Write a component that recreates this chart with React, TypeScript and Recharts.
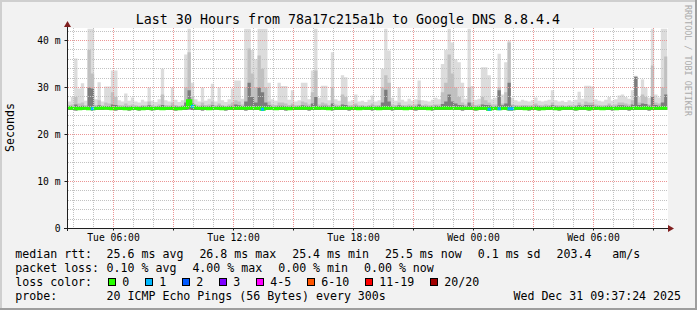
import React from 'react';
import { ComposedChart, Area, Line, XAxis, YAxis } from 'recharts';

// graph starts 3.7h after Tue 00:00 and covers 30 hours in 10 minute slots
const START = 3.7;
const SPAN = 30;
const SLOT = 1 / 6;
const Y_TOP = 42.77;

// smoke: top of each gray band (ms), bottom is pingMin
const pingMax = [
  27.0, 28.0, 36.2, 29.8, 30.9, 27.2, 42.5, 42.5, 27.5, 31.1,
  27.0, 30.2, 30.2, 33.6, 33.6, 27.3, 27.0, 28.7, 27.2, 27.9,
  27.0, 26.8, 27.4, 27.0, 30.0, 27.2, 26.9, 27.5, 34.0, 27.3,
  27.0, 30.0, 27.4, 26.9, 27.3, 37.0, 42.5, 31.0, 27.5, 27.0,
  30.0, 27.2, 27.6, 30.8, 27.0, 30.0, 27.3, 26.9, 27.5, 29.8,
  31.5, 31.5, 27.6, 42.5, 42.5, 38.0, 36.0, 42.5, 42.5, 42.5,
  31.0, 27.5, 27.2, 31.0, 30.3, 30.3, 27.4, 29.4, 27.0, 27.3,
  31.0, 31.0, 27.5, 33.6, 42.5, 27.8, 30.4, 30.4, 27.3, 37.5,
  27.5, 27.2, 32.6, 32.2, 27.0, 27.3, 28.5, 27.0, 27.2, 26.9,
  27.4, 28.3, 27.0, 27.3, 34.0, 42.5, 37.9, 27.8, 27.2, 30.0,
  27.4, 27.0, 27.6, 27.2, 27.5, 31.5, 27.3, 27.2, 27.0, 27.4,
  27.8, 27.5, 35.0, 38.0, 42.5, 39.6, 36.0, 35.4, 31.0, 27.6,
  42.5, 30.3, 27.4, 27.6, 34.3, 34.3, 32.6, 27.5, 27.8, 37.2,
  28.5, 35.4, 40.0, 27.8, 27.3, 27.0, 27.4, 27.2, 27.0, 27.3,
  27.9, 27.2, 27.0, 27.2, 27.4, 29.4, 27.3, 27.0, 27.2, 26.9,
  27.3, 27.0, 27.4, 29.1, 27.6, 30.4, 30.4, 30.2, 27.5, 27.2,
  27.0, 27.4, 28.0, 27.2, 27.5, 28.3, 28.5, 28.0, 27.6, 29.4,
  32.5, 28.0, 31.7, 30.0, 27.8, 42.5, 28.5, 27.9, 42.5, 42.5,
];

const pingMid = [
  26.3, 26.4, 28.0, 26.6, 26.8, 26.2, 38.0, 33.0, 26.3, 27.3,
  26.2, 26.8, 26.6, 29.0, 28.0, 26.3, 26.2, 26.6, 26.2, 26.4,
  26.2, 26.1, 26.3, 26.2, 27.0, 26.3, 26.1, 26.4, 28.5, 26.3,
  26.2, 26.8, 26.3, 26.1, 26.3, 30.0, 37.5, 28.0, 26.4, 26.2,
  26.8, 26.3, 26.4, 27.0, 26.2, 26.6, 26.3, 26.1, 26.4, 26.8,
  27.3, 27.0, 26.4, 30.0, 38.3, 33.0, 30.0, 36.8, 34.0, 30.0,
  27.0, 26.4, 26.3, 26.8, 26.8, 26.6, 26.3, 26.6, 26.2, 26.3,
  27.0, 26.8, 26.4, 29.0, 33.6, 26.4, 26.8, 26.6, 26.3, 30.0,
  26.4, 26.3, 28.5, 28.0, 26.2, 26.3, 26.6, 26.2, 26.3, 26.1,
  26.3, 26.6, 26.2, 26.3, 30.0, 32.6, 31.0, 26.4, 26.3, 26.8,
  26.3, 26.2, 26.4, 26.3, 26.4, 27.3, 26.3, 26.4, 26.2, 26.3,
  26.4, 26.4, 29.0, 31.0, 37.0, 33.0, 30.0, 28.0, 26.8, 26.4,
  30.0, 26.8, 26.3, 26.4, 28.0, 27.3, 26.8, 26.4, 26.4, 30.0,
  26.6, 29.0, 39.6, 26.4, 26.3, 26.2, 26.3, 26.3, 26.2, 26.3,
  26.6, 26.3, 26.2, 26.4, 26.3, 26.8, 26.3, 26.2, 26.3, 26.1,
  26.3, 26.2, 26.3, 26.8, 26.4, 27.0, 26.8, 26.8, 26.4, 26.3,
  26.2, 26.3, 26.6, 26.3, 26.4, 26.8, 26.8, 26.6, 26.4, 27.3,
  32.3, 26.8, 28.5, 28.0, 26.4, 34.7, 26.8, 26.6, 30.0, 36.6,
];

const pingDark = [
  25.9, 26.0, 26.4, 26.0, 26.1, 25.9, 30.0, 29.8, 25.9, 26.2,
  25.9, 26.0, 26.0, 26.4, 26.3, 25.9, 25.9, 26.0, 25.9, 26.0,
  25.9, 25.9, 26.0, 25.9, 26.2, 25.9, 25.9, 26.0, 26.3, 25.9,
  25.9, 26.1, 26.0, 25.9, 26.0, 26.8, 29.4, 26.6, 26.0, 25.9,
  26.1, 25.9, 26.0, 26.2, 25.9, 26.1, 26.0, 25.9, 26.0, 26.1,
  26.4, 26.2, 26.0, 27.0, 31.0, 28.0, 26.8, 30.0, 29.0, 26.8,
  26.2, 26.0, 25.9, 26.1, 26.1, 26.0, 25.9, 26.1, 25.9, 26.0,
  26.2, 26.1, 26.0, 26.6, 28.0, 26.0, 26.1, 26.1, 25.9, 26.6,
  26.0, 25.9, 26.4, 26.3, 25.9, 25.9, 26.1, 25.9, 26.0, 25.9,
  26.0, 26.1, 25.9, 26.0, 26.8, 29.5, 27.0, 26.0, 25.9, 26.2,
  26.0, 25.9, 26.0, 26.0, 26.0, 26.4, 26.0, 26.0, 25.9, 26.0,
  26.1, 26.0, 26.5, 27.0, 28.5, 27.0, 26.6, 26.3, 26.2, 26.0,
  26.8, 26.1, 25.9, 26.0, 26.4, 26.3, 26.2, 26.0, 26.0, 29.4,
  26.2, 26.6, 31.0, 26.1, 26.0, 25.9, 26.0, 26.0, 25.9, 26.0,
  26.1, 26.0, 25.9, 26.0, 26.0, 26.2, 26.0, 25.9, 26.0, 25.9,
  26.0, 25.9, 26.0, 26.2, 26.0, 26.3, 26.2, 26.2, 26.0, 26.0,
  25.9, 26.0, 26.1, 26.0, 26.0, 26.2, 26.2, 26.1, 26.0, 26.4,
  32.3, 26.3, 26.6, 26.5, 26.1, 28.0, 26.3, 26.1, 26.8, 28.5,
];

const pingMin = [
  25.2, 25.2, 25.1, 25.2, 25.2, 25.3, 25.2, 25.1, 25.2, 25.2,
  25.2, 25.3, 25.2, 25.2, 25.1, 25.2, 25.2, 25.2, 25.1, 25.2,
  25.2, 25.1, 25.2, 25.2, 25.2, 25.1, 25.2, 25.3, 25.2, 25.2,
  25.2, 25.2, 25.1, 25.2, 25.2, 25.2, 25.3, 25.2, 25.2, 25.2,
  25.1, 25.2, 25.2, 25.2, 25.3, 25.2, 25.2, 25.1, 25.2, 25.2,
  25.2, 25.2, 25.2, 25.1, 25.2, 25.2, 25.2, 25.2, 25.1, 25.2,
  25.2, 25.3, 25.2, 25.2, 25.2, 25.1, 25.2, 25.2, 25.2, 25.2,
  25.2, 25.2, 25.1, 25.2, 25.2, 25.2, 25.3, 25.2, 25.2, 25.1,
  25.2, 25.2, 25.2, 25.2, 25.1, 25.2, 25.2, 25.2, 25.3, 25.2,
  25.2, 25.1, 25.2, 25.2, 25.2, 25.2, 25.2, 25.1, 25.2, 25.2,
  25.2, 25.2, 25.3, 25.2, 25.1, 25.2, 25.2, 25.2, 25.2, 25.1,
  25.2, 25.2, 25.2, 25.2, 25.2, 25.3, 25.2, 25.2, 25.1, 25.2,
  25.2, 25.2, 25.1, 25.2, 25.2, 25.2, 25.1, 25.2, 25.2, 25.2,
  25.3, 25.2, 25.1, 25.1, 25.2, 25.2, 25.2, 25.2, 25.1, 25.2,
  25.2, 25.1, 25.2, 25.2, 25.2, 25.3, 25.2, 25.1, 25.2, 25.2,
  25.2, 25.2, 25.1, 25.2, 25.2, 25.2, 25.1, 25.2, 25.2, 25.3,
  25.2, 25.2, 25.2, 25.1, 25.2, 25.2, 25.2, 25.2, 25.1, 25.2,
  25.2, 25.2, 25.2, 25.2, 25.1, 25.2, 25.2, 25.2, 25.2, 25.2,
];

const median = [
  25.7, 25.6, 25.6, 25.5, 25.6, 25.6, 25.5, 25.5, 25.6, 25.6,
  25.7, 25.6, 25.6, 25.5, 25.6, 25.6, 25.6, 25.5, 25.5, 25.6,
  25.6, 25.5, 25.5, 25.6, 25.6, 25.5, 25.6, 25.6, 25.5, 25.6,
  25.6, 25.6, 25.5, 25.5, 25.6, 25.7, 27.2, 26.0, 25.7, 25.6,
  25.6, 25.6, 25.5, 25.6, 25.6, 25.6, 25.5, 25.6, 25.6, 25.6,
  25.6, 25.7, 25.6, 25.6, 25.7, 25.6, 25.6, 25.7, 25.4, 25.6,
  25.6, 25.6, 25.5, 25.6, 25.6, 25.6, 25.5, 25.6, 25.6, 25.6,
  25.7, 25.6, 25.6, 25.6, 25.7, 25.6, 25.6, 25.6, 25.5, 25.6,
  25.6, 25.6, 25.7, 25.6, 25.6, 25.6, 25.6, 25.5, 25.6, 25.6,
  25.6, 25.6, 25.6, 25.5, 25.6, 25.7, 25.6, 25.6, 25.6, 25.6,
  25.6, 25.5, 25.6, 25.6, 25.6, 25.6, 25.6, 25.6, 25.5, 25.6,
  25.6, 25.6, 25.6, 25.7, 25.6, 25.6, 25.6, 25.6, 25.6, 25.6,
  25.6, 25.6, 25.5, 25.6, 25.6, 25.6, 25.4, 25.6, 25.6, 25.5,
  25.6, 25.6, 25.5, 25.5, 25.6, 25.6, 25.6, 25.5, 25.6, 25.6,
  25.6, 25.5, 25.5, 25.6, 25.6, 25.6, 25.5, 25.5, 25.6, 25.6,
  25.6, 25.6, 25.5, 25.6, 25.6, 25.6, 25.5, 25.6, 25.6, 25.6,
  25.5, 25.6, 25.6, 25.6, 25.5, 25.6, 25.6, 25.6, 25.6, 25.6,
  25.7, 25.6, 25.6, 25.7, 25.6, 25.6, 25.6, 25.6, 25.7, 25.6,
];

// slots where one of the 20 pings was lost
const lossSlots = [7, 37, 58, 126, 129, 132, 133];

const tickHours = [6, 12, 18, 24, 30];
const tickLabels = ['Tue 06:00', 'Tue 12:00', 'Tue 18:00', 'Wed 00:00', 'Wed 06:00'];
const yTicks = [0, 10, 20, 30, 40];

const rttLegend = ['25.6 ms avg', '26.8 ms max', '25.4 ms min', '25.5 ms now', '0.1 ms sd', '203.4   am/s'];
const lossLegend = ['0.10 % avg', '4.00 % max', '0.00 % min', '0.00 % now'];
const lossNames = ['0', '1', '2', '3', '4-5', '6-10', '11-19', '20/20'];
const lossColors = ['#26ff00', '#00b8ff', '#0059ff', '#7e00ff', '#ff00ff', '#ff5500', '#ff0000', '#a10000'];
const probeText = '20 ICMP Echo Pings (56 Bytes) every 300s';
const stampText = 'Wed Dec 31 09:37:24 2025';

const rows: any[] = median.map((m, i) => {
    const lossHere = lossSlots.includes(i);
    const lossPrev = lossSlots.includes(i - 1);
    return {
        t: START + i * SLOT,
        light: [pingMin[i], pingMax[i]],
        mid: [pingMin[i], pingMid[i]],
        dark: [pingMin[i], pingDark[i]],
        median: m,
        loss1: lossHere ? m : lossPrev ? median[i - 1] : null,
    };
});
// closing point so the last step is drawn to the right edge
rows.push({ ...rows[rows.length - 1], t: START + SPAN, loss1: null });

// plot box in page pixels (must match the chart margins below)
const PX0 = 67.5, PXW = 600, PY0 = 228.5, PYH = 201;
const xPix = (h: number) => Math.floor(PX0 + ((h - START) / SPAN) * PXW) + 0.5;
const yPix = (v: number) => Math.floor(PY0 - (v / Y_TOP) * PYH) + 0.5;

const majorHours = Array.from({ length: 10 }, (_, k) => 6 + k * 3);
const minorHours = Array.from({ length: 30 }, (_, k) => 4 + k).filter((h) => h % 3 !== 0);
const majorMs = [10, 20, 30, 40];
const minorMs = Array.from({ length: 21 }, (_, k) => 2 + k * 2).filter((v) => v % 10 !== 0);

const mono = "'DejaVu Sans Mono', monospace";
const CW = 6.98; // legend char advance

function offsets(start: number, items: string[]) {
    const xs: number[] = [];
    let x = start;
    items.forEach((s) => {
        xs.push(x);
        x += s.length * CW + 16;
    });
    return xs;
}

export default function App() {
    const rttX = offsets(106.6, rttLegend);
    const lossX = offsets(106.6, lossLegend);
    let bx = 108;
    const boxes = lossNames.map((name, k) => {
        const x = bx;
        bx += 30 + name.length * 7;
        return { x, name, color: lossColors[k] };
    });

    const gridMinor = '#c2c2c2';
    const gridMajor = '#eb9595';

    return (
        <div style={{ position: 'absolute', left: 0, top: 0, width: 697, height: 310, background: '#f2f2f2', overflow: 'hidden' }}>
            <div style={{ position: 'absolute', left: 67.5, top: 27.5, width: 600, height: 201, background: '#ffffff' }} />
            <div style={{ position: 'absolute', left: 0, top: 0 }}>
                <ComposedChart width={697} height={310} data={rows} margin={{ top: 27.5, right: 29.5, bottom: 61.5, left: 7.5 }}>
                    <XAxis
                        type="number"
                        dataKey="t"
                        domain={[START, START + SPAN]}
                        allowDataOverflow
                        ticks={majorHours}
                        interval={0}
                        tickFormatter={(h: number) => {
                            const k = tickHours.indexOf(h);
                            return k >= 0 ? tickLabels[k] : '';
                        }}
                        tick={{ fontSize: 9.7, fontFamily: mono, fill: '#000' }}
                        tickSize={2}
                        tickMargin={3.5}
                        height={20}
                        axisLine={{ stroke: '#1f1f1f' }}
                        tickLine={{ stroke: '#1f1f1f' }}
                    />
                    <YAxis
                        type="number"
                        domain={[0, Y_TOP]}
                        allowDataOverflow
                        ticks={yTicks}
                        interval={0}
                        tickFormatter={(v: number) => (v === 0 ? '0' : `${v} m`)}
                        tick={{ fontSize: 9.7, fontFamily: mono, fill: '#000' }}
                        tickSize={3}
                        tickMargin={4}
                        width={60}
                        axisLine={{ stroke: '#1f1f1f' }}
                        tickLine={{ stroke: '#1f1f1f' }}
                    />
                    <Area type="stepAfter" dataKey="light" stroke="none" fill="#dcdcdc" fillOpacity={1} dot={false} activeDot={false} isAnimationActive={false} />
                    <Area type="stepAfter" dataKey="mid" stroke="none" fill="#c0c0c0" fillOpacity={1} dot={false} activeDot={false} isAnimationActive={false} />
                    <Area type="stepAfter" dataKey="dark" stroke="none" fill="#7c7c7c" fillOpacity={1} dot={false} activeDot={false} isAnimationActive={false} />
                    <Line type="stepAfter" dataKey="median" stroke={lossColors[0]} strokeWidth={3} dot={false} activeDot={false} isAnimationActive={false} />
                    <Line type="stepAfter" dataKey="loss1" stroke={lossColors[1]} strokeWidth={3} dot={false} activeDot={false} connectNulls={false} isAnimationActive={false} />
                </ComposedChart>
            </div>
            <svg width={697} height={310} style={{ position: 'absolute', left: 0, top: 0, pointerEvents: 'none' }} fontFamily={mono}>
                {/* dotted grid, drawn over the graph like rrdtool does */}
                <g shapeRendering="crispEdges" strokeDasharray="1 1">
                    {minorHours.map((h) => (
                        <line key={'vm' + h} x1={xPix(h)} x2={xPix(h)} y1={28} y2={228} stroke={gridMinor} />
                    ))}
                    {minorMs.map((v) => (
                        <line key={'hm' + v} x1={68} x2={667} y1={yPix(v)} y2={yPix(v)} stroke={gridMinor} />
                    ))}
                    {majorHours.map((h) => (
                        <line key={'vM' + h} x1={xPix(h)} x2={xPix(h)} y1={28} y2={228} stroke={gridMajor} />
                    ))}
                    {majorMs.map((v) => (
                        <line key={'hM' + v} x1={68} x2={667} y1={yPix(v)} y2={yPix(v)} stroke={gridMajor} />
                    ))}
                </g>

                {/* frame */}
                <rect x={0} y={0} width={697} height={2} fill="#cfcfcf" />
                <rect x={0} y={0} width={2} height={310} fill="#cfcfcf" />
                <rect x={695} y={0} width={2} height={310} fill="#9e9e9e" />
                <rect x={0} y={308} width={697} height={2} fill="#9e9e9e" />

                {/* axis extensions and arrows */}
                <line x1={64} y1={228.5} x2={668} y2={228.5} stroke="#1f1f1f" />
                <line x1={67.5} y1={26} x2={67.5} y2={231} stroke="#1f1f1f" />
                <polygon points="668,225 674,228.5 668,232" fill="#801f1f" />
                <polygon points="64,27 67.5,21 71,27" fill="#801f1f" />

                <text x={348} y={24} textAnchor="middle" fontSize={13.3} fill="#000">
                    Last 30 Hours from 78a17c215a1b to Google DNS 8.8.4.4
                </text>
                <text transform="translate(14.3,127.5) rotate(-90)" textAnchor="middle" fontSize={11.6} fill="#000">
                    Seconds
                </text>
                <text transform="translate(685,5) rotate(90)" fontSize={8.4} fill="#ababab">
                    RRDTOOL / TOBI OETIKER
                </text>

                <g fontSize={11.6} fill="#000">
                    <text x={15.3} y={257.5}>median rtt:</text>
                    {rttLegend.map((s, k) => (
                        <text key={s} x={rttX[k]} y={257.5} xmlSpace="preserve" style={{ whiteSpace: 'pre' }}>{s}</text>
                    ))}
                    <text x={15.3} y={271.5}>packet loss:</text>
                    {lossLegend.map((s, k) => (
                        <text key={s + k} x={lossX[k]} y={271.5}>{s}</text>
                    ))}
                    <text x={15.3} y={285.5}>loss color:</text>
                    {boxes.map((b) => (
                        <g key={b.name}>
                            <rect x={b.x + 0.5} y={278.5} width={7} height={7} fill={b.color} stroke="#000" strokeWidth={1} />
                            <text x={b.x + 14.3} y={285.5}>{b.name}</text>
                        </g>
                    ))}
                    <text x={15.3} y={299.5}>probe:</text>
                    <text x={106.6} y={299.5}>{probeText}</text>
                    <text x={681} y={299.5} textAnchor="end">{stampText}</text>
                </g>
            </svg>
        </div>
    );
}
